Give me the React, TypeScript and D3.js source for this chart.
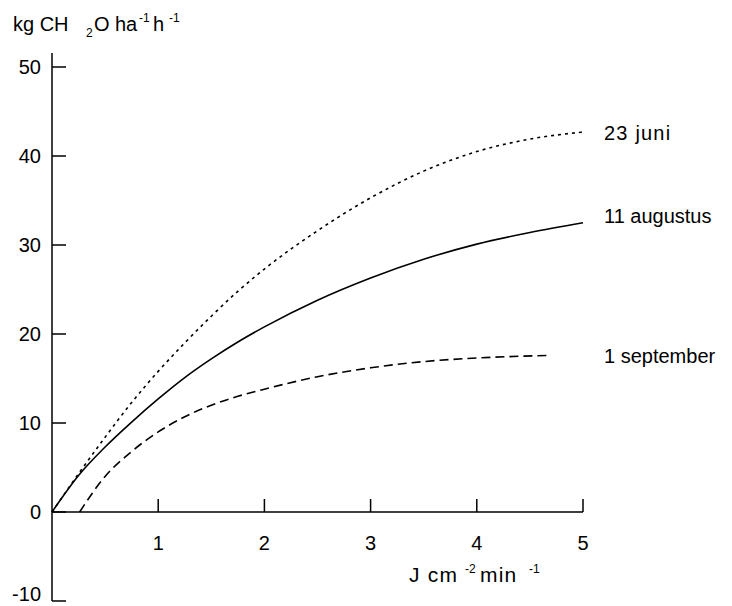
import React from 'react';
import * as d3 from 'd3';

// light intensity (J cm-2 min-1) and gross assimilation (kg CH2O ha-1 h-1)
const juniX = [0, 0.25, 0.5, 0.75, 1, 1.25, 1.5, 1.75, 2, 2.5, 3, 3.5, 4, 4.5, 5];
const juniY = [0, 4.3, 8.4, 12.3, 15.8, 19.0, 22.0, 24.8, 27.3, 31.6, 35.3, 38.3, 40.5, 41.9, 42.7];

const augX = [0, 0.25, 0.5, 0.75, 1, 1.25, 1.5, 1.75, 2, 2.5, 3, 3.5, 4, 4.5, 5];
const augY = [0, 4.1, 7.3, 10.1, 12.7, 15.1, 17.2, 19.1, 20.8, 23.8, 26.3, 28.4, 30.1, 31.4, 32.5];

const sepX = [0.26, 0.5, 0.75, 1, 1.25, 1.5, 1.75, 2, 2.5, 3, 3.5, 4, 4.7];
const sepY = [0, 4.0, 6.8, 9.0, 10.7, 12.0, 13.0, 13.8, 15.2, 16.2, 16.9, 17.3, 17.6];

const seriesNames = ['23 juni', '11 augustus', '1 september'];
const labelValues = [42.6, 33.3, 17.5];

const xTicks = [1, 2, 3, 4, 5];
const yTicks = [-10, 0, 10, 20, 30, 40, 50];

const font = '"Liberation Sans", Arial, Helvetica, sans-serif';

export default function App() {
  const width = 732;
  const height = 606;

  const x = d3.scaleLinear().domain([0, 5]).range([52, 583]);
  const y = d3.scaleLinear().domain([-10, 50]).range([601, 67]);

  const line = d3
    .line<[number, number]>()
    .x((d) => x(d[0]))
    .y((d) => y(d[1]))
    .curve(d3.curveMonotoneX);

  const series = [
    { xs: juniX, ys: juniY, dash: '3 4' },
    { xs: augX, ys: augY, dash: undefined },
    { xs: sepX, ys: sepY, dash: '9 5' },
  ];

  return (
    <svg
      width={width}
      height={height}
      style={{ position: 'absolute', left: 0, top: 0, background: '#fff' }}
      fontFamily={font}
    >
      {/* y axis */}
      <line x1={x(0)} x2={x(0)} y1={y(50) - 14} y2={y(-10)} stroke="#000" strokeWidth={1.5} />
      {yTicks.map((t) => (
        <g key={t}>
          <line x1={x(0)} x2={x(0) + 14} y1={y(t)} y2={y(t)} stroke="#000" strokeWidth={1.5} />
          <text x={41} y={Math.min(y(t), 594)} dy="0.36em" textAnchor="end" fontSize={20}>
            {t}
          </text>
        </g>
      ))}

      {/* x axis */}
      <line x1={x(0)} x2={x(5)} y1={y(0)} y2={y(0)} stroke="#000" strokeWidth={1.5} />
      {xTicks.map((t) => (
        <g key={t}>
          <line x1={x(t)} x2={x(t)} y1={y(0)} y2={y(0) - 13} stroke="#000" strokeWidth={1.5} />
          <text x={x(t)} y={y(0) + 38} textAnchor="middle" fontSize={20}>
            {t}
          </text>
        </g>
      ))}

      {/* curves */}
      {series.map((s, k) => {
        const pts = s.xs.map((v, i) => [v, s.ys[i]] as [number, number]);
        return (
          <g key={seriesNames[k]}>
            <path
              d={line(pts) || ''}
              fill="none"
              stroke="#000"
              strokeWidth={1.6}
              strokeDasharray={s.dash}
            />
            <text
              x={x(5) + 21}
              y={y(labelValues[k])}
              dy="0.36em"
              fontSize={20}
              letterSpacing={k === 0 ? 1.2 : 0}
            >
              {seriesNames[k]}
            </text>
          </g>
        );
      })}

      {/* axis titles */}
      <text y={31} fontSize={20}>
        <tspan x={13}>kg CH</tspan>
        <tspan x={86} dy={6} fontSize={12}>2</tspan>
        <tspan x={94} dy={-6}>O</tspan>
        <tspan x={115}>ha</tspan>
        <tspan x={139} dy={-9} fontSize={12}>-1</tspan>
        <tspan x={153} dy={9}>h</tspan>
        <tspan x={169} dy={-9} fontSize={12}>-1</tspan>
      </text>
      <text y={582} fontSize={21} letterSpacing={1.2}>
        <tspan x={409}>J cm</tspan>
        <tspan x={465} dy={-9} fontSize={12} letterSpacing={0}>-2</tspan>
        <tspan x={480} dy={9}>min</tspan>
        <tspan x={529} dy={-9} fontSize={12} letterSpacing={0}>-1</tspan>
      </text>
    </svg>
  );
}
